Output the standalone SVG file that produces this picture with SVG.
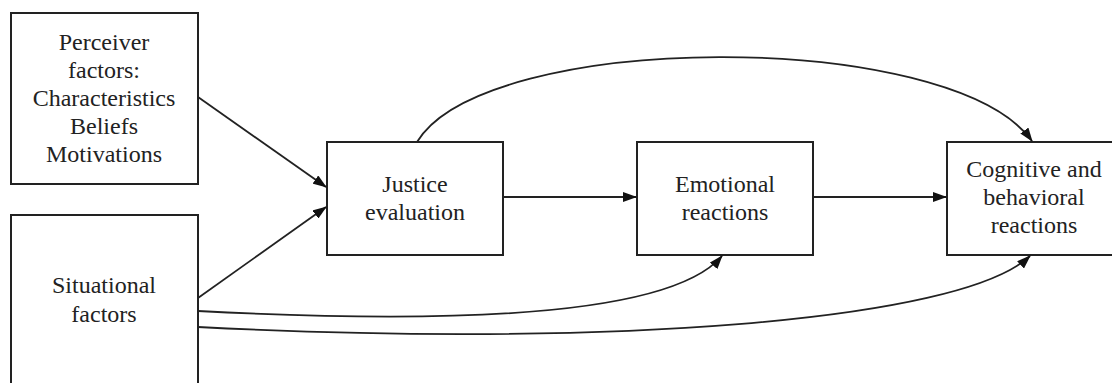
<svg xmlns="http://www.w3.org/2000/svg" width="1112" height="383" viewBox="0 0 1112 383">
<style>
.box{fill:#fff;stroke:#222;stroke-width:2}
.t{font-family:"Liberation Serif","Times New Roman",serif;font-size:24px;fill:#222;text-anchor:middle}
.c{fill:none;stroke:#222;stroke-width:1.8}
</style>
<defs>
<marker id="ah" viewBox="0 0 14 10" refX="13" refY="5" markerWidth="14" markerHeight="10" markerUnits="userSpaceOnUse" orient="auto">
<path d="M0,0 L14,5 L0,10 Z" fill="#111"/>
</marker>
</defs>
<rect width="1112" height="383" fill="#fff"/>
<g id="perceiver">
<rect class="box" x="11" y="13" width="187" height="171"/>
<text class="t" x="104" y="50">Perceiver</text>
<text class="t" x="104" y="78">factors:</text>
<text class="t" x="104" y="106">Characteristics</text>
<text class="t" x="104" y="134">Beliefs</text>
<text class="t" x="104" y="162">Motivations</text>
</g>
<g id="situational">
<rect class="box" x="11" y="215" width="187" height="200"/>
<text class="t" x="104" y="293">Situational</text>
<text class="t" x="104" y="322">factors</text>
</g>
<g id="justice">
<rect class="box" x="327" y="142" width="176" height="113"/>
<text class="t" x="415" y="192">Justice</text>
<text class="t" x="415" y="220">evaluation</text>
</g>
<g id="emotional">
<rect class="box" x="637" y="142" width="176" height="113"/>
<text class="t" x="725" y="192">Emotional</text>
<text class="t" x="725" y="220">reactions</text>
</g>
<g id="cognitive">
<rect class="box" x="947" y="142" width="200" height="113"/>
<text class="t" x="1034" y="177">Cognitive and</text>
<text class="t" x="1034" y="205">behavioral</text>
<text class="t" x="1034" y="233">reactions</text>
</g>
<g id="connectors">
<path class="c" d="M198,97 L326,187" marker-end="url(#ah)"/>
<path class="c" d="M198,298 L326,207" marker-end="url(#ah)"/>
<path class="c" d="M503,197 L636,197" marker-end="url(#ah)"/>
<path class="c" d="M813,197 L946,197" marker-end="url(#ah)"/>
<path class="c" d="M417,142 C485,30 950,28 1032,141" marker-end="url(#ah)"/>
<path class="c" d="M198,311 C520,328 680,305 722,256" marker-end="url(#ah)"/>
<path class="c" d="M198,327 C600,348 960,322 1030,256" marker-end="url(#ah)"/>
</g>
</svg>
